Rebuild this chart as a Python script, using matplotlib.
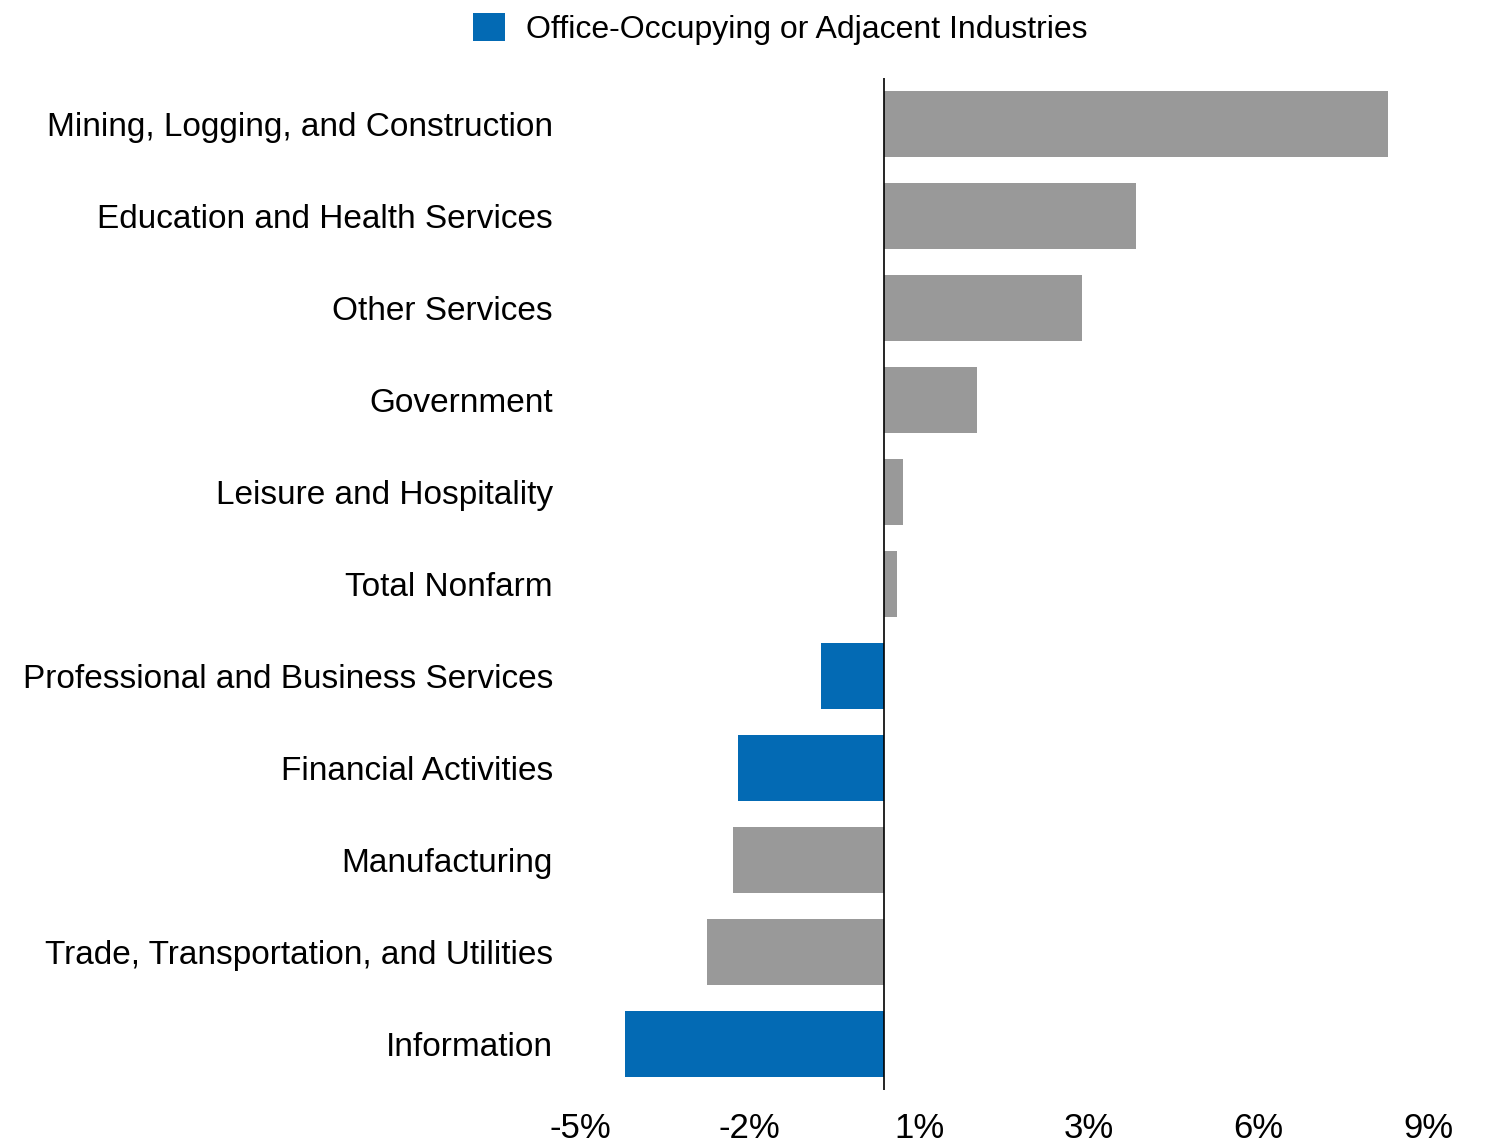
import matplotlib
matplotlib.use("Agg")
import matplotlib.pyplot as plt
from matplotlib.patches import Patch
import numpy as np

plt.rcParams['font.family'] = ['Liberation Sans', 'DejaVu Sans']

categories = [
    "Mining, Logging, and Construction",
    "Education and Health Services",
    "Other Services",
    "Government",
    "Leisure and Hospitality",
    "Total Nonfarm",
    "Professional and Business Services",
    "Financial Activities",
    "Manufacturing",
    "Trade, Transportation, and Utilities",
    "Information",
]
values = [8.21, 4.11, 3.23, 1.52, 0.31, 0.21, -1.03, -2.38, -2.46, -2.89, -4.22]
office_adjacent = [False, False, False, False, False, False, True, True, False, False, True]
tick_labels = ["-5%", "-2%", "1%", "3%", "6%", "9%"]
legend_label = "Office-Occupying or Adjacent Industries"

BLUE = "#036AB4"
GRAY = "#999999"

W, H = 1489, 1144
fig = plt.figure(figsize=(W / 100, H / 100), dpi=100)
ax = fig.add_axes([580 / W, 1 - 1090 / H, (1428 - 580) / W, (1090 - 78) / H])

n = len(categories)
ypos = np.arange(n)[::-1]
colors = [BLUE if o else GRAY for o in office_adjacent]
ax.barh(ypos, values, height=0.715, color=colors, zorder=2)
ax.axvline(0, color="black", linewidth=1.2, zorder=3)

xmin, xmax = -4.955, 8.867
ax.set_xlim(xmin, xmax)
ax.set_ylim(-0.5, n - 0.5)
ax.set_xticks(np.linspace(xmin, xmax, 6))
ax.set_xticklabels(tick_labels)
ax.set_yticks(ypos)
ax.set_yticklabels(categories)
ax.tick_params(axis="both", length=0)
ax.tick_params(axis="y", pad=19.5, labelsize=24)
ax.tick_params(axis="x", pad=16, labelsize=25)
for s in ax.spines.values():
    s.set_visible(False)

handles = [Patch(facecolor=BLUE, edgecolor="none", label=legend_label)]
fig.legend(handles=handles, loc="center", bbox_to_anchor=(780.5 / W, 1 - 29 / H),
           frameon=False, fontsize=23, handlelength=1.0, handleheight=1.0,
           handletextpad=0.66, borderpad=0)

fig.savefig("out.png", dpi=100)
